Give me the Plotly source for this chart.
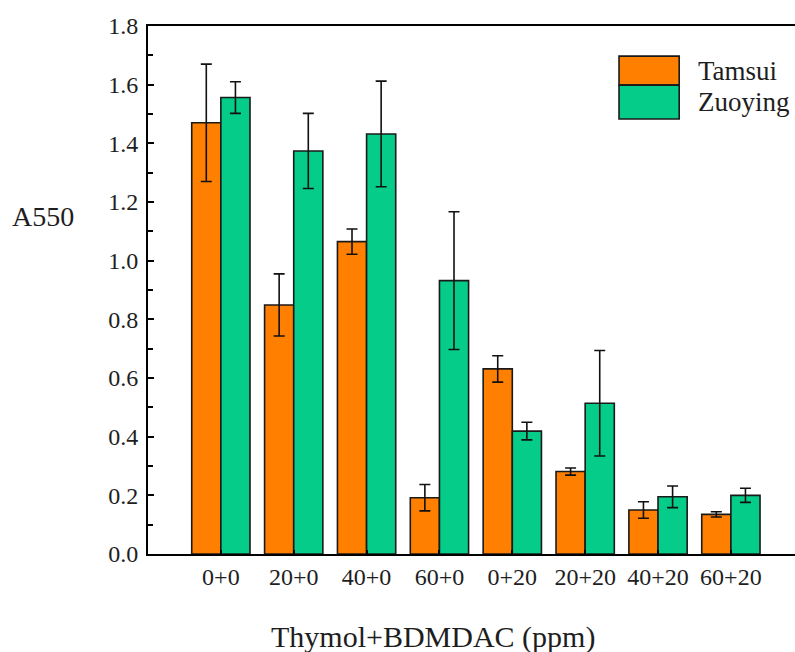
import plotly.graph_objects as go

# Treatment combinations (Thymol + BDMDAC, ppm)
categories = ["0+0", "20+0", "40+0", "60+0", "0+20", "20+20", "40+20", "60+20"]

# Mean absorbance at 550 nm and standard deviations
tamsui_mean = [1.470, 0.849, 1.065, 0.192, 0.631, 0.281, 0.150, 0.135]
tamsui_sd = [0.200, 0.106, 0.043, 0.045, 0.045, 0.012, 0.028, 0.009]
zuoying_mean = [1.556, 1.374, 1.432, 0.932, 0.419, 0.514, 0.195, 0.200]
zuoying_sd = [0.054, 0.128, 0.180, 0.235, 0.030, 0.180, 0.037, 0.024]

series_names = ["Tamsui", "Zuoying"]
series_colors = ["#FF7F00", "#05CC88"]

font_family = "Liberation Serif, Times New Roman, serif"
text_color = "#1e1e1e"

fig = go.Figure()
for name, mean, sd, color in zip(series_names, [tamsui_mean, zuoying_mean],
                                 [tamsui_sd, zuoying_sd], series_colors):
    fig.add_trace(go.Bar(
        name=name,
        x=categories,
        y=mean,
        marker=dict(color=color, line=dict(color="#1a1a1a", width=1.6)),
        error_y=dict(type="data", array=sd, visible=True,
                     color="#111111", thickness=1.6, width=5.5),
        showlegend=False,
    ))

# Legend drawn as large stacked swatches with labels
legend_x0, legend_x1 = 0.728, 0.821
legend_rows = [(0.943, 0.888), (0.888, 0.824)]
for (top, bottom), name, color in zip(legend_rows, series_names, series_colors):
    fig.add_shape(type="rect", xref="paper", yref="paper",
                  x0=legend_x0, x1=legend_x1, y0=bottom, y1=top,
                  fillcolor=color, line=dict(color="#1a1a1a", width=1.6))
    fig.add_annotation(xref="paper", yref="paper", x=0.847, y=(top + bottom) / 2,
                       text=name, showarrow=False, xanchor="left", yanchor="middle",
                       font=dict(family=font_family, size=27, color=text_color))

# Y axis title placed horizontally to the left of the axis
fig.add_annotation(xref="paper", yref="paper", x=-0.213, y=0.640,
                   text="A550", showarrow=False, xanchor="left", yanchor="middle",
                   font=dict(family=font_family, size=28, color=text_color))

# X axis title
fig.add_annotation(xref="paper", yref="paper", x=0.44, y=-0.157,
                   text="Thymol+BDMDAC (ppm)", showarrow=False,
                   xanchor="center", yanchor="middle",
                   font=dict(family=font_family, size=30, color=text_color))

fig.update_layout(
    width=795, height=652,
    margin=dict(l=148, r=0, t=26, b=98),
    plot_bgcolor="white", paper_bgcolor="white",
    barmode="group", bargap=0.2, bargroupgap=0.0,
    font=dict(family=font_family, size=23, color=text_color),
    xaxis=dict(
        range=[-1, 7.88],
        showline=True, linecolor="black", linewidth=2, mirror=True,
        ticks="inside", ticklen=4, tickwidth=1.5, tickcolor="black",
        showgrid=False, zeroline=False,
        tickfont=dict(family=font_family, size=24, color=text_color),
        ticklabelstandoff=0,
    ),
    yaxis=dict(
        range=[0, 1.8], tickvals=[0, 0.2, 0.4, 0.6, 0.8, 1.0, 1.2, 1.4, 1.6, 1.8],
        tickformat=".1f",
        showline=True, linecolor="black", linewidth=2, mirror=False,
        ticks="inside", ticklen=6, tickwidth=2, tickcolor="black",
        minor=dict(ticks="inside", ticklen=5, tickwidth=1.5, tickcolor="black", dtick=0.1),
        showgrid=False, zeroline=False,
        tickfont=dict(family=font_family, size=24, color=text_color),
        ticklabelstandoff=3,
    ),
)

fig.write_html("out.html")
